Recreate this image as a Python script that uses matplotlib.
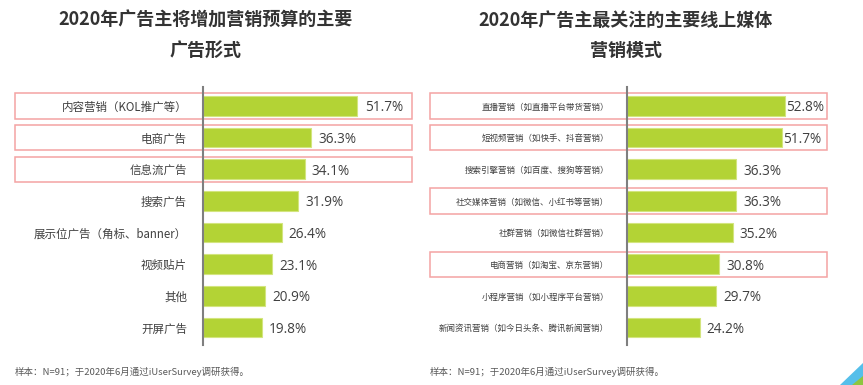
import matplotlib.pyplot as plt
from matplotlib.patches import Rectangle, Polygon
import matplotlib.transforms as mtransforms

plt.rcParams['font.family'] = ['Noto Sans CJK SC', 'DejaVu Sans']

# data
left_title = ["2020年广告主将增加营销预算的主要", "广告形式"]
left_labels = ["内容营销（KOL推广等）", "电商广告", "信息流广告", "搜索广告",
               "展示位广告（角标、banner）", "视频贴片", "其他", "开屏广告"]
left_values = [51.7, 36.3, 34.1, 31.9, 26.4, 23.1, 20.9, 19.8]
left_boxed = [0, 1, 2]

right_title = ["2020年广告主最关注的主要线上媒体", "营销模式"]
right_labels = ["直播营销（如直播平台带货营销）", "短视频营销（如快手、抖音营销）",
                "搜索引擎营销（如百度、搜狗等营销）", "社交媒体营销（如微信、小红书等营销）",
                "社群营销（如微信社群营销）", "电商营销（如淘宝、京东营销）",
                "小程序营销（如小程序平台营销）", "新闻资讯营销（如今日头条、腾讯新闻营销）"]
right_values = [52.8, 51.7, 36.3, 36.3, 35.2, 30.8, 29.7, 24.2]
right_boxed = [0, 1, 3, 5]

note = "样本：N=91；于2020年6月通过iUserSurvey调研获得。"

W, H = 863, 385
fig = plt.figure(figsize=(W / 100, H / 100), dpi=100)

bar_color = "#B3D335"
box_color = "#F4A3A3"
text_color = "#404040"


def panel(x0_px, width_px, xmax, labels, values, boxed, box_left_px,
          label_size, label_pad, value_pad_small):
    ax = fig.add_axes([x0_px / W, 1 - 345 / H, width_px / W, 258 / H])
    n = len(values)
    ys = list(range(n))
    ax.barh(ys, values, height=0.62, color=bar_color, edgecolor="#D3E57E",
            linewidth=0.8, zorder=2)
    ax.set_xlim(0, xmax)
    ax.set_ylim(n - 0.45, -0.6)
    ax.set_yticks(ys, labels, fontsize=label_size, color=text_color)
    ax.tick_params(axis="y", length=0, pad=label_pad)
    ax.set_xticks([])
    for s in ["top", "right", "bottom"]:
        ax.spines[s].set_visible(False)
    ax.spines["left"].set_color("#7F7F7F")
    ax.spines["left"].set_linewidth(1.5)
    ax.spines["left"].set_zorder(3)
    for y, v in zip(ys, values):
        pad = value_pad_small if v > 50 else 2.4
        ax.text(v + pad, y, f"{v}%", va="center_baseline", ha="left",
                fontsize=9.8, family=["Open Sans", "DejaVu Sans"],
                color=text_color)
    trans = mtransforms.blended_transform_factory(ax.transAxes, ax.transData)
    bl = (box_left_px - x0_px) / width_px
    for i in boxed:
        ax.add_patch(Rectangle((bl, i - 0.4), 1 - bl, 0.8, transform=trans,
                               fill=False, edgecolor=box_color, linewidth=1.1,
                               clip_on=False, zorder=1))
    return ax


panel(203, 208.6, 70, left_labels, left_values, left_boxed, 15, 8.3, 11.5, 2.6)
panel(627, 199.5, 66.5, right_labels, right_values, right_boxed, 430, 6.1, 13, 0.2)

for xc, t in [(206, left_title), (626, right_title)]:
    fig.text(xc / W, 1 - 20 / H, t[0], ha="center", va="center", fontsize=13,
             fontweight="bold", color="#333333")
    fig.text(xc / W, 1 - 50 / H, t[1], ha="center", va="center", fontsize=13,
             fontweight="bold", color="#333333")

for x in [15, 430]:
    fig.text(x / W, 1 - 372 / H, note, ha="left", va="center", fontsize=6.8,
             color="#595959")

# corner decoration
fig.patches.append(Polygon([(840 / W, 0), (1, 22 / H), (1, 0)], closed=True,
                           transform=fig.transFigure, facecolor="#55BFEA",
                           edgecolor="none"))
fig.patches.append(Polygon([(852 / W, 0), (1, 9 / H), (1, 0)], closed=True,
                           transform=fig.transFigure, facecolor="#8DC63F",
                           edgecolor="none"))

fig.savefig("out.png", dpi=100)
